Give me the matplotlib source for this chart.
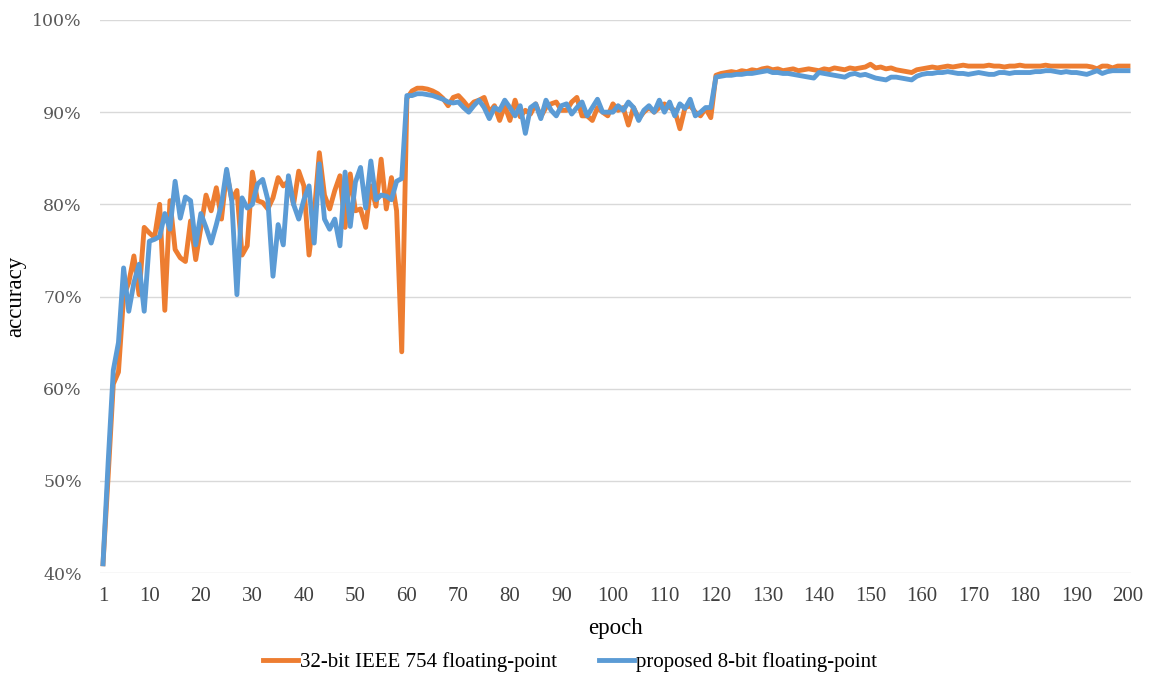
import numpy as np
import matplotlib.pyplot as plt
from matplotlib.ticker import FuncFormatter

# accuracy (%) per epoch
fp32_acc = [
    41.0, 50.5, 60.5, 61.8, 70.0, 71.5, 74.4, 70.2, 77.5, 76.9,
    76.4, 80.0, 68.5, 80.4, 75.1, 74.2, 73.8, 78.2, 74.0, 77.5,
    81.0, 79.3, 81.8, 78.4, 83.5, 80.5, 81.5, 74.5, 75.5, 83.5,
    80.4, 80.2, 79.5, 80.7, 82.9, 82.0, 82.5, 80.0, 83.6, 82.0,
    74.5, 79.0, 85.6, 81.0, 79.5, 81.5, 83.1, 77.5, 83.3, 79.3,
    79.5, 77.5, 82.0, 79.8, 84.9, 79.5, 82.9, 79.3, 64.0, 91.5,
    92.3, 92.6, 92.6, 92.5, 92.3, 92.0, 91.5, 90.7, 91.6, 91.8,
    91.2, 90.5, 91.1, 91.3, 91.6, 90.0, 90.7, 89.1, 90.7, 89.1,
    91.3, 89.5, 90.2, 89.8, 90.9, 89.5, 90.5, 90.9, 91.1, 90.2,
    90.2, 91.1, 91.6, 89.6, 89.6, 89.1, 90.5, 90.0, 89.6, 90.9,
    90.2, 90.5, 88.6, 90.5, 89.3, 90.0, 90.5, 90.0, 90.5, 90.9,
    90.5, 90.2, 88.2, 90.5, 90.7, 90.0, 89.6, 90.4, 89.4, 94.0,
    94.2, 94.3, 94.4, 94.3, 94.5, 94.4, 94.6, 94.5, 94.7, 94.8,
    94.6, 94.7, 94.5, 94.6, 94.7, 94.5, 94.6, 94.7, 94.6, 94.5,
    94.7, 94.6, 94.8, 94.7, 94.6, 94.8, 94.7, 94.8, 94.9, 95.2,
    94.8, 94.9, 94.7, 94.8, 94.6, 94.5, 94.4, 94.3, 94.6, 94.7,
    94.8, 94.9, 94.8, 94.9, 95.0, 94.9, 95.0, 95.1, 95.0, 95.0,
    95.0, 95.0, 95.1, 95.0, 95.0, 94.9, 95.0, 95.0, 95.1, 95.0,
    95.0, 95.0, 95.0, 95.1, 95.0, 95.0, 95.0, 95.0, 95.0, 95.0,
    95.0, 95.0, 94.9, 94.7, 95.0, 95.0, 94.8, 95.0, 95.0, 95.0,
]

fp8_acc = [
    41.0, 52.0, 62.0, 65.0, 73.1, 68.4, 71.5, 73.5, 68.4, 76.0,
    76.2, 76.5, 79.0, 77.3, 82.5, 78.5, 80.8, 80.4, 75.6, 79.0,
    77.5, 75.8, 77.8, 80.0, 83.8, 80.4, 70.2, 80.7, 79.6, 80.0,
    82.2, 82.7, 80.5, 72.2, 77.8, 75.6, 83.1, 80.0, 78.4, 80.5,
    82.0, 75.8, 84.4, 78.4, 77.3, 78.4, 75.5, 83.5, 77.6, 82.4,
    84.0, 79.6, 84.7, 80.5, 81.0, 80.9, 80.5, 82.5, 82.8, 91.8,
    91.8, 92.0, 92.0, 91.9, 91.8, 91.6, 91.4, 91.1, 91.0, 91.1,
    90.5, 90.0, 90.7, 91.3, 90.5, 89.3, 90.5, 90.2, 91.3, 90.5,
    89.6, 90.7, 87.7, 90.5, 90.9, 89.3, 91.3, 90.2, 89.6, 90.7,
    90.9, 89.8, 90.5, 91.1, 89.6, 90.5, 91.4, 90.0, 90.0, 90.0,
    90.7, 90.2, 91.1, 90.5, 89.1, 90.2, 90.7, 90.0, 91.3, 90.0,
    91.1, 89.6, 90.9, 90.4, 91.4, 89.6, 90.0, 90.5, 90.5, 93.8,
    93.9, 94.0, 94.0, 94.1, 94.1, 94.2, 94.2, 94.3, 94.4, 94.5,
    94.3, 94.3, 94.2, 94.2, 94.1, 94.0, 93.9, 93.8, 93.7, 94.3,
    94.2, 94.1, 94.0, 93.9, 93.8, 94.1, 94.2, 94.0, 94.1, 93.9,
    93.7, 93.6, 93.5, 93.8, 93.8, 93.7, 93.6, 93.5, 93.9, 94.1,
    94.2, 94.2, 94.3, 94.3, 94.4, 94.3, 94.2, 94.2, 94.1, 94.2,
    94.3, 94.2, 94.1, 94.1, 94.3, 94.3, 94.2, 94.3, 94.3, 94.3,
    94.3, 94.4, 94.4, 94.5, 94.5, 94.4, 94.3, 94.4, 94.3, 94.3,
    94.2, 94.1, 94.3, 94.5, 94.2, 94.4, 94.5, 94.5, 94.5, 94.5,
]

epochs = np.arange(1, len(fp32_acc) + 1)
xtick_pos = [1] + list(range(10, 201, 10))
ytick_pos = [40, 50, 60, 70, 80, 90, 100]

serif = 'Liberation Serif'

fig = plt.figure(figsize=(11.58, 6.77), dpi=100)
ax = fig.add_axes([100/1158, 1 - 573/677, 1031/1158, 553/677])

ax.plot(epochs, fp32_acc, color='#ED7D31', lw=3.5, label='32-bit IEEE 754 floating-point',
        solid_joinstyle='round')
ax.plot(epochs, fp8_acc, color='#5B9BD5', lw=3.5, label='proposed 8-bit floating-point',
        solid_joinstyle='round')

ax.set_xlim(1 - 3/5.15, 200 + 3/5.15)
ax.set_ylim(40, 100)
ax.set_xticks(xtick_pos)
ax.set_yticks(ytick_pos)
ax.yaxis.set_major_formatter(FuncFormatter(lambda v, p: '%d%%' % v))

ax.grid(axis='y', color='#D9D9D9', lw=1.0)
ax.set_axisbelow(True)
for s in ax.spines.values():
    s.set_visible(False)

ax.tick_params(axis='x', length=0, pad=10, labelsize=15, labelcolor='#404040')
ax.tick_params(axis='y', length=0, pad=13, labelsize=12.5, labelcolor='#595959')
for t in ax.get_xticklabels():
    t.set_family(serif)
for t in ax.get_yticklabels():
    t.set_family('DejaVu Serif')

ax.set_xlabel('epoch', family=serif, fontsize=16.5, labelpad=9)
ax.set_ylabel('accuracy', family=serif, fontsize=16.5)
ax.yaxis.set_label_coords((26 - 100) / 1031, 0.5)

fig.legend(loc='center', bbox_to_anchor=(570/1158, 0.022), ncol=2, frameon=False,
           prop={'family': serif, 'size': 15}, handlelength=1.7,
           handletextpad=0.1, columnspacing=2.0)

fig.savefig('out.png', dpi=100)
